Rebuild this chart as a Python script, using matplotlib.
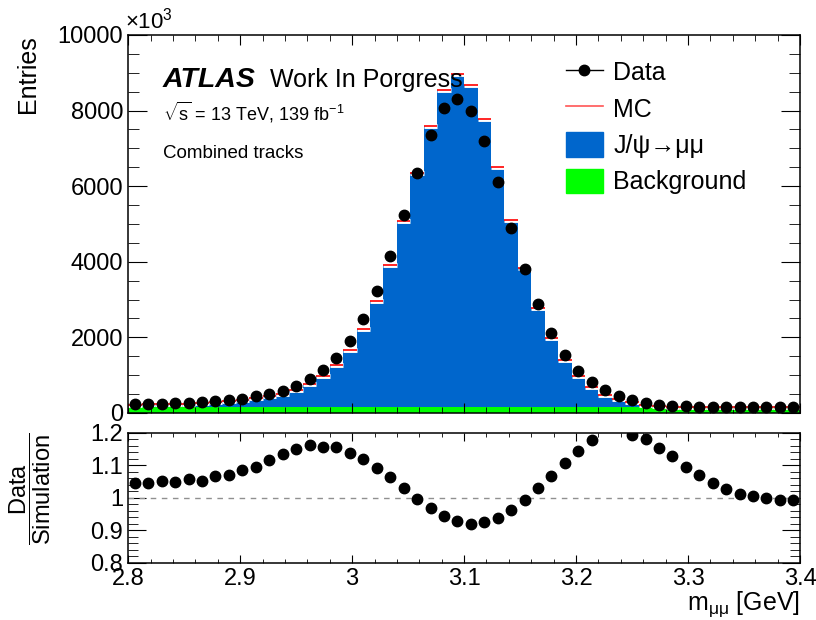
import matplotlib
matplotlib.use("Agg")
import matplotlib.pyplot as plt
import numpy as np
from matplotlib.ticker import MultipleLocator, FormatStrFormatter
from matplotlib.lines import Line2D
from matplotlib.patches import Patch

plt.rcParams["font.family"] = ["Liberation Sans", "DejaVu Sans"]
plt.rcParams["mathtext.fontset"] = "custom"
plt.rcParams["mathtext.rm"] = "Liberation Sans"
plt.rcParams["mathtext.it"] = "Liberation Sans:italic"
plt.rcParams["mathtext.bf"] = "Liberation Sans:bold"

# binning of the dimuon mass histogram
m_lo, m_hi, n_bins = 2.8, 3.4, 50

# observed entries per bin
data = [225, 244, 244, 260, 260, 279, 305, 332, 376, 438,
        491, 579, 711, 889, 1127, 1464, 1905, 2472, 3231, 4160,
        5239, 6345, 7361, 8069, 8308, 7979, 7202, 6106, 4900, 3815,
        2870, 2117, 1544, 1118, 817, 597, 455, 340, 260, 217,
        191, 172, 165, 160, 156, 153, 152, 151, 150, 150]

# J/psi -> mu mu simulation
jpsi = [65, 83, 82, 98, 96, 115, 136, 160, 196, 250,
        290, 360, 468, 614, 825, 1114, 1524, 2059, 2806, 3756,
        4931, 6208, 7439, 8398, 8803, 8523, 7636, 6353, 4944, 3684,
        2634, 1834, 1245, 826, 544, 331, 220, 135, 70, 38,
        19, 7, 4, 3, 2, 1, 1, 1, 1, 1]

# background
bkg = [150] * n_bins

edges = np.linspace(m_lo, m_hi, n_bins + 1)
centers = 0.5 * (edges[:-1] + edges[1:])
data = np.array(data, dtype=float)
jpsi = np.array(jpsi, dtype=float)
bkg = np.array(bkg, dtype=float)
mc = jpsi + bkg
ratio = data / mc

blue = "#0066cc"
green = "#00ff00"

fig = plt.figure(figsize=(8.16, 6.2), dpi=100)
ax = fig.add_axes([0.157, 0.334, 0.8235, 0.6097])
rax = fig.add_axes([0.157, 0.092, 0.8235, 0.2097])

# main panel
ax.stairs(bkg, edges, fill=True, color=green, lw=0)
ax.stairs(mc, edges, baseline=bkg, fill=True, color=blue, lw=0)
ax.hlines(mc, edges[:-1], edges[1:], color="white", lw=3.5)
ax.hlines(mc, edges[:-1], edges[1:], color="red", lw=1.2)
ax.plot(centers, data, "o", color="black", ms=7.5, zorder=5)

ax.set_xlim(m_lo, m_hi)
ax.set_ylim(0, 10000)
ax.xaxis.set_major_locator(MultipleLocator(0.1))
ax.xaxis.set_minor_locator(MultipleLocator(0.02))
ax.yaxis.set_major_locator(MultipleLocator(2000))
ax.yaxis.set_minor_locator(MultipleLocator(500))
ax.tick_params(which="both", direction="in", top=True, right=True, labelsize=17)
ax.tick_params(axis="y", which="major", length=14)
ax.tick_params(axis="y", which="minor", length=8)
ax.tick_params(axis="x", which="major", length=7)
ax.tick_params(axis="x", which="minor", length=4)
ax.tick_params(labelbottom=False)
ax.set_ylabel("Entries", loc="top", fontsize=18)
ax.yaxis.set_label_coords(-0.131, 1.0)
ax.text(-0.004, 1.003, "×10$^{3}$", transform=ax.transAxes,
        fontsize=16, ha="left", va="bottom")

ax.text(0.052, 0.88, "ATLAS", transform=ax.transAxes, fontsize=20.5,
        fontweight="bold", fontstyle="italic", va="center")
ax.text(0.211, 0.88, "Work In Porgress", transform=ax.transAxes,
        fontsize=18, va="center")
ax.text(0.052, 0.794, r"$\sqrt{\mathrm{s}}$ = 13 TeV, 139 fb$^{-1}$",
        transform=ax.transAxes, fontsize=13, va="center")
ax.text(0.052, 0.685, "Combined tracks", transform=ax.transAxes,
        fontsize=13.5, va="center")

handles = [
    Line2D([], [], color="black", marker="o", ms=7.5, lw=1),
    Line2D([], [], color="#ff5555", lw=1.2),
    Patch(facecolor=blue, edgecolor=blue),
    Patch(facecolor=green, edgecolor=green),
]
labels = ["Data", "MC", "J/ψ→μμ", "Background"]
ax.legend(handles, labels, loc="upper left", bbox_to_anchor=(0.651, 0.935),
          frameon=False, fontsize=18, handlelength=1.5, handleheight=1.15,
          labelspacing=0.42, handletextpad=0.4, borderaxespad=0,
          borderpad=0)

# ratio panel
rax.axhline(1.0, color="#909090", ls=(0, (4, 4)), lw=1)
rax.plot(centers, ratio, "o", color="black", ms=7.5)
rax.set_xlim(m_lo, m_hi)
rax.set_ylim(0.8, 1.2)
rax.xaxis.set_major_locator(MultipleLocator(0.1))
rax.xaxis.set_minor_locator(MultipleLocator(0.02))
rax.yaxis.set_major_locator(MultipleLocator(0.1))
rax.yaxis.set_minor_locator(MultipleLocator(0.02))
rax.xaxis.set_major_formatter(FormatStrFormatter("%g"))
rax.yaxis.set_major_formatter(FormatStrFormatter("%g"))
rax.tick_params(which="both", direction="in", top=True, right=True, labelsize=17)
rax.tick_params(axis="y", which="major", length=13)
rax.tick_params(axis="y", which="minor", length=7)
rax.tick_params(axis="x", which="major", length=6)
rax.tick_params(axis="x", which="minor", length=3)
rax.set_xlabel(r"m$_{\mathrm{\mu\mu}}$ [GeV]", loc="right", fontsize=18)
rax.xaxis.set_label_coords(1.0, -0.2)
rax.text(-0.146, 0.57, r"$\dfrac{\mathrm{Data}}{\mathrm{Simulation}}$",
         transform=rax.transAxes, rotation=90, ha="center", va="center",
         fontsize=17)

for a in (ax, rax):
    for s in a.spines.values():
        s.set_linewidth(1.1)

fig.savefig("out.png", dpi=100)
